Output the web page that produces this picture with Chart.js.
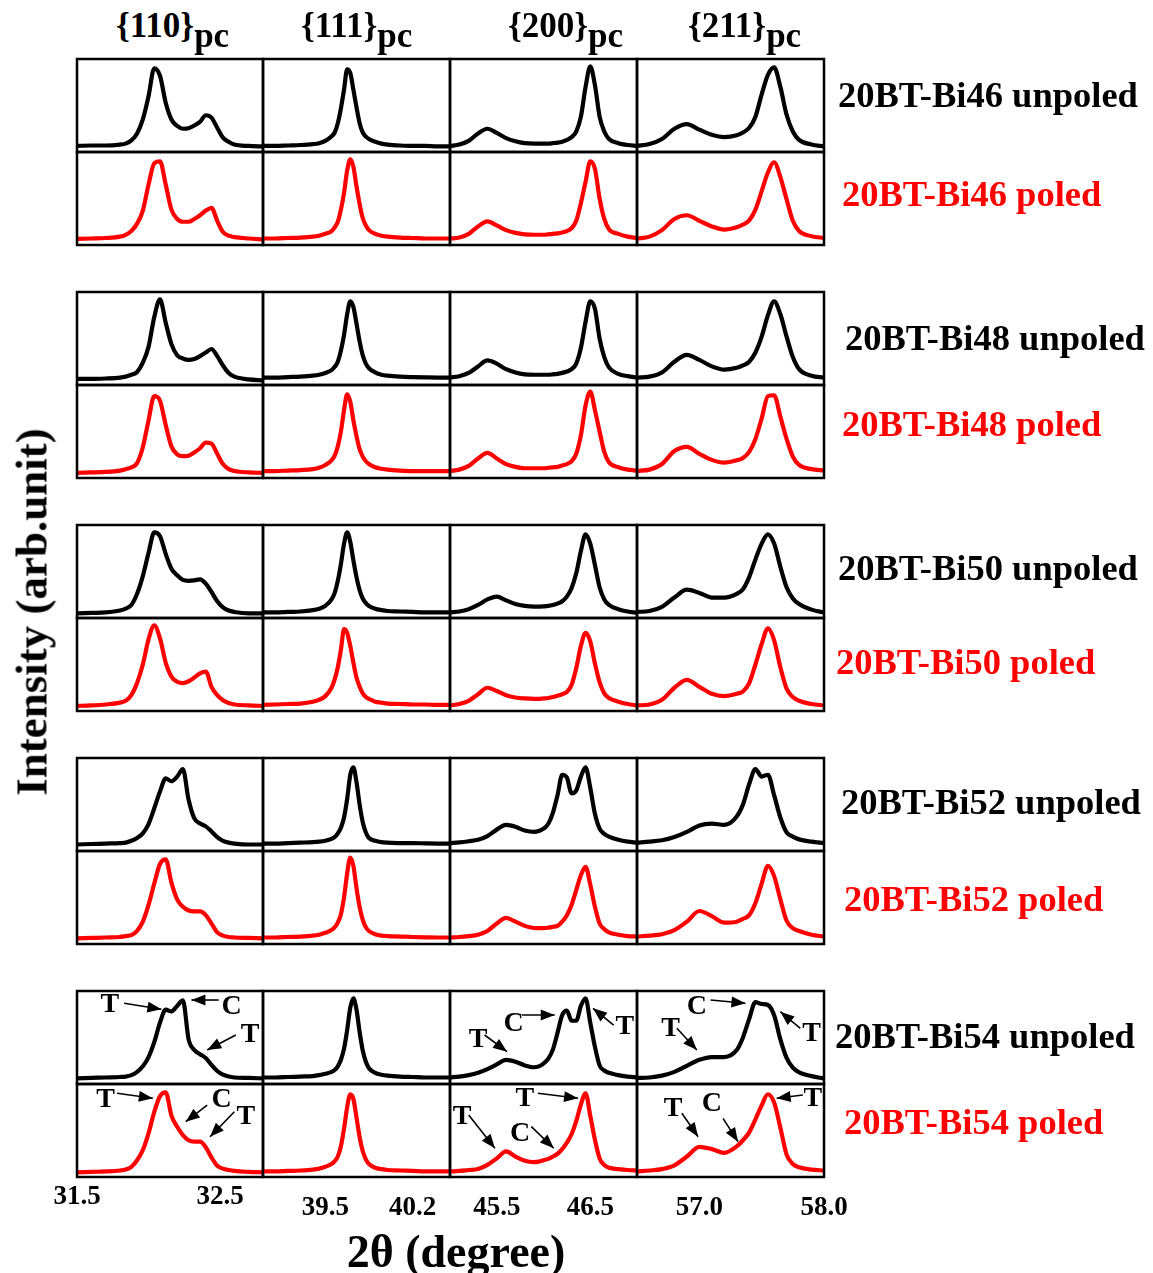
<!DOCTYPE html>
<html>
<head>
<meta charset="utf-8">
<script src="https://cdn.jsdelivr.net/npm/chart.js@4.4.0/dist/chart.umd.min.js"></script>
<style>
  body { margin: 0; width: 1153px; height: 1273px; position: relative; overflow: hidden; background: #fff;
         font-family: "Liberation Serif", "Times New Roman", serif; font-weight: bold; }
  canvas { position: absolute; }
  .txt { position: absolute; white-space: nowrap; line-height: 1; }
  .row { font-size: 36.5px; transform: translateY(-50%); }
  .hdr { font-size: 35px; }
  .hdr span { position: relative; top: 10px; }
</style>
</head>
<body>
<script>
// sample names, reflections and axis settings
const samples = ["Bi46", "Bi48", "Bi50", "Bi52", "Bi54"];
const planes = ["110", "111", "200", "211"];
const xRanges = [[31.5, 32.8], [39.0, 40.5], [45.0, 47.0], [56.5, 58.0]];
const tickVals = [[31.5, 32.5], [39.5, 40.2], [45.5, 46.5], [57.0, 58.0]];
const tickText = [["31.5", "32.5"], ["39.5", "40.2"], ["45.5", "46.5"], ["57.0", "58.0"]];

// 2theta sampling of each reflection (degree)
const x110 = [31.50, 31.60, 31.70, 31.80, 31.84, 31.88, 31.92, 31.96, 32.00, 32.04, 32.08, 32.12, 32.16,
              32.20, 32.24, 32.28, 32.32, 32.36, 32.40, 32.44, 32.48, 32.52, 32.56, 32.60, 32.70, 32.80];
const x111 = [39.0, 39.1, 39.2, 39.3, 39.4, 39.45, 39.5, 39.55, 39.575, 39.6, 39.625, 39.65, 39.675, 39.7,
              39.725, 39.75, 39.775, 39.8, 39.825, 39.85, 39.9, 39.95, 40.0, 40.1, 40.2, 40.3, 40.4, 40.5];
const x200 = [45.0, 45.1, 45.2, 45.3, 45.4, 45.5, 45.6, 45.7, 45.8, 45.9, 45.95, 46.0, 46.05, 46.1, 46.15,
              46.2, 46.25, 46.3, 46.35, 46.4, 46.45, 46.5, 46.55, 46.6, 46.65, 46.7, 46.8, 46.9, 47.0];
const x211 = [56.5, 56.6, 56.7, 56.8, 56.9, 57.0, 57.1, 57.2, 57.3, 57.35, 57.4, 57.45, 57.5, 57.55, 57.6,
              57.65, 57.7, 57.75, 57.8, 57.9, 58.0];

// intensities (arb. unit), u = unpoled, p = poled
const u46_110 = [6.5, 7, 7, 8, 9, 12.5, 20, 35, 60, 90, 82, 53, 35, 28, 25, 25.5, 28.5, 32.5, 39.5, 37, 26, 15.5, 11, 8, 6.5, 6];
const p46_110 = [6.5, 7, 7.5, 9, 11, 15, 23, 37, 65, 88, 90, 65, 38, 28, 25, 25, 28, 32, 37, 40, 26, 14, 10, 8.5, 7, 6];
const u48_110 = [6.5, 6.5, 7, 8, 9, 11, 14, 24, 41, 73, 92, 67, 44, 32, 28.5, 27, 28, 31, 35, 38.7, 31, 21, 13, 9, 6, 5];
const p48_110 = [5.5, 6, 6.5, 8, 9.5, 11.5, 16, 33, 62, 88, 83, 57, 34, 25.5, 23.5, 24, 27.5, 32, 38, 37, 26, 15, 9.5, 7.5, 6, 5.5];
const u50_110 = [5, 5.5, 6, 8, 10, 14, 26, 45, 70, 92, 88, 69, 53, 46, 41, 40, 40.5, 41.5, 37, 28, 18, 11.5, 8, 6.5, 5, 5];
const p50_110 = [5.5, 6, 7, 9, 11, 17, 30, 50, 77, 92, 78, 52, 37, 31.5, 30, 32, 36, 40.5, 42.5, 26, 17, 11.5, 8.5, 7, 6, 5.5];
const u52_110 = [7, 7.5, 8, 8.5, 9, 11, 14, 19, 29, 46, 64, 78, 75, 80, 88, 55, 35, 29.5, 26.5, 21, 15, 11, 9, 8, 7, 7];
const p52_110 = [6, 6.5, 7, 7.5, 8.5, 9.5, 14, 24, 42, 65, 86, 91, 66, 48, 40, 36, 35, 35, 31, 22, 12.5, 9, 7.5, 7, 6.5, 6];
const u54_110 = [6, 6.5, 7, 7.5, 8, 9.5, 13, 19, 29, 45, 66, 80, 78, 84, 90, 48, 36.5, 32, 28, 20.5, 14, 10, 8, 7, 6.5, 6];
const p54_110 = [5, 5.5, 6, 7, 8, 11, 18, 29, 47, 70, 87, 91, 66, 54, 45, 39.5, 38, 38, 32, 21, 12, 9, 7.5, 6.5, 5.5, 5];

const u46_111 = [6.5, 6.5, 7, 7.5, 8.5, 9.5, 12, 17, 21, 31, 47, 67, 89, 85, 67, 48, 31, 21, 16.5, 14, 11, 9, 8, 7, 6.5, 6.5, 6, 6];
const p46_111 = [7, 7, 7.5, 8, 9, 10, 12, 15, 19, 25, 38, 56, 80, 92, 84, 63, 44, 29, 21, 16, 12, 10, 9, 8, 7.5, 7, 7, 7];
const u48_111 = [8, 8, 8.5, 9, 10, 11, 13, 16, 19.5, 25, 37, 54, 76, 90, 84, 66, 47, 32, 23, 18, 13.5, 11, 10, 9, 8.5, 8.2, 8, 8];
const p48_111 = [7.5, 7.5, 8, 8.5, 9.5, 11, 14, 19, 24, 34, 50, 73, 90, 82, 62, 45, 31, 23, 18, 15, 11.5, 10, 9, 8, 7.5, 7.5, 7.5, 7.5];
const u50_111 = [6, 6, 6.5, 7, 8.5, 10, 13, 20, 27, 40, 58, 80, 92, 82, 62, 44, 30, 21, 16, 13, 10, 8.5, 7.5, 7, 6.5, 6, 6, 6];
const p50_111 = [6.5, 7, 7.5, 8, 10, 12, 16, 25, 34, 47, 66, 88, 84, 70, 52, 36, 26, 19, 15, 13, 10, 9, 8, 7.5, 7, 7, 6.5, 6.5];
const u52_111 = [8, 8, 8.5, 9, 9.5, 10, 11, 13, 15, 19, 25, 36, 56, 82, 90, 74, 50, 31, 20, 14, 11, 9.5, 9, 8.5, 8.5, 8.2, 8, 8];
const p52_111 = [7, 7, 7.5, 8, 9, 10, 12, 15, 18, 23, 32, 50, 76, 93, 84, 60, 40, 26, 18, 14, 10.5, 9, 8.5, 8, 7.5, 7.2, 7, 7];
const u54_111 = [7, 7, 7.5, 8, 8.5, 9.5, 11, 13, 15, 19, 26, 38, 58, 82, 92, 80, 56, 36, 24, 17, 12, 10, 9, 8, 7.5, 7, 7, 7];
const p54_111 = [6, 6, 6.5, 7, 8, 9, 11, 14, 17, 22, 33, 52, 75, 89, 84, 64, 43, 28, 19, 14, 10, 8.5, 7.5, 7, 6.5, 6, 6, 6];

const u46_200 = [6.5, 8, 12, 20, 25, 20.5, 15, 11.5, 9.5, 9, 9, 9, 9, 9.5, 10, 11, 13, 16, 22, 38, 70, 92, 72, 38, 22, 14, 9.5, 7.5, 6.5];
const p46_200 = [7, 8, 12, 20, 25.5, 21, 16, 13, 11.5, 11, 11, 11, 11.5, 12, 12.5, 13.5, 15, 18, 26, 45, 68, 90, 82, 50, 28, 17, 12, 9, 7.5];
const u48_200 = [8, 9.5, 13, 20, 26.5, 23, 17, 13.5, 11.5, 11, 11, 11, 11, 11.5, 12, 13, 14.5, 17, 23, 40, 68, 90, 82, 50, 30, 19, 12, 9.5, 8];
const p48_200 = [7.5, 9, 13, 21, 27, 21, 15, 12, 10.5, 10.5, 10.5, 10.5, 11, 11.5, 12, 13.5, 15, 18, 26, 46, 78, 93, 73, 50, 28, 17, 11.5, 9, 8];
const u50_200 = [6, 7, 9.5, 14, 20, 23, 19, 15, 13, 12.2, 12.2, 12.5, 13, 14, 15.5, 18, 23, 32, 48, 72, 90, 80, 57, 33, 20, 14, 9.5, 7, 5.7];
const p50_200 = [6, 7.5, 11, 18, 25, 21.5, 17, 14.5, 13.5, 13, 13, 13.5, 14, 15, 16.5, 18, 20.5, 28, 46, 70, 84, 75, 51, 31, 19, 14, 10, 7.5, 6];
const u52_200 = [8.5, 9.3, 10.5, 12, 16, 23, 28, 26, 22, 20.5, 21.5, 24, 29, 41, 60, 82, 79, 62, 65, 80, 90, 68, 40, 24, 18.5, 15.5, 12, 10, 9];
const p52_200 = [7, 7.5, 8.5, 10, 14, 22, 28, 24, 19.5, 17.2, 17, 17, 17.5, 18.5, 19.5, 24, 31, 42, 58, 74, 83, 64, 40, 22, 16, 12.5, 10, 8.5, 8];
const u54_200 = [7, 8, 9.5, 12, 16, 21, 26, 24, 20, 18, 19, 22, 27, 37, 55, 74, 79, 68, 68, 84, 92, 66, 40, 20, 14.5, 12, 9.5, 8, 7];
const p54_200 = [6, 6.5, 7.5, 8.5, 13, 20, 27.5, 22, 17.5, 16, 16.5, 18, 19.5, 22, 25, 30, 37, 46, 60, 78, 90, 66, 40, 20, 13, 10, 8.5, 7.5, 7];

const u46_211 = [6.5, 8.5, 14, 25, 30, 24, 18.5, 16, 18, 21, 26, 38, 62, 83, 91, 70, 40, 22, 13, 8, 6];
const p46_211 = [7, 9, 16, 28, 32, 26, 20, 16.5, 19, 22, 26.5, 38, 58, 78, 89, 73, 49, 26, 15, 9.5, 7.5];
const u48_211 = [8, 9, 13.5, 25, 32.5, 27, 20, 16.5, 18.5, 21, 25, 35, 52, 75, 90, 76, 52, 30, 17, 10, 8];
const p48_211 = [7.5, 9, 15, 29, 33.5, 26, 19.5, 16.5, 19, 21.5, 28, 42, 64, 88, 89, 66, 42, 23, 14, 9.5, 8];
const u50_211 = [6.5, 7.5, 12, 22, 30.5, 27, 22, 22, 26, 31, 44, 63, 80, 90, 80, 55, 33, 21, 15, 9, 6];
const p50_211 = [6, 7, 12, 25, 33.5, 26, 18.5, 16, 18.5, 21, 30, 50, 72, 89, 76, 47, 24, 15, 11, 7.5, 6];
const u52_211 = [9, 10, 11.5, 15, 20.5, 27.5, 29.5, 28, 37, 50, 72, 88, 80, 82, 60, 36, 20, 15.5, 12.5, 10, 8.5];
const p52_211 = [8, 9, 10.5, 15, 24, 35.5, 30, 23, 24, 27, 31, 44, 65, 84, 73, 48, 25, 17, 14, 10, 8];
const u54_211 = [6.5, 7, 9, 13, 19.5, 26, 29, 29, 36.5, 50, 70, 88, 86, 85, 74, 48, 28, 17.5, 12.5, 8.5, 6];
const p54_211 = [6, 7, 8.5, 12.5, 22, 32.5, 30, 26, 33, 39.5, 48, 62, 77, 89, 80, 53, 24, 14, 10.5, 8, 7];

const xGrid = { "110": x110, "111": x111, "200": x200, "211": x211 };
const curves = {
  u46_110, p46_110, u48_110, p48_110, u50_110, p50_110, u52_110, p52_110, u54_110, p54_110,
  u46_111, p46_111, u48_111, p48_111, u50_111, p50_111, u52_111, p52_111, u54_111, p54_111,
  u46_200, p46_200, u48_200, p48_200, u50_200, p50_200, u52_200, p52_200, u54_200, p54_200,
  u46_211, p46_211, u48_211, p48_211, u50_211, p50_211, u52_211, p52_211, u54_211, p54_211
};

// T / C phase marks on Bi54: [text, tx, ty, x1, y1, x2, y2] in data units
const notes = {
  "u_110": [["T", 31.73, 85, 31.83, 86.8, 32.09, 80.3], ["C", 32.58, 83, 32.49, 90.3, 32.30, 90.3],
            ["T", 32.71, 52.7, 32.61, 52.7, 32.41, 36.6]],
  "p_110": [["T", 31.70, 82.8, 31.78, 90, 32.03, 84.6], ["C", 32.51, 82.8, 32.41, 77.4, 32.26, 59.5],
            ["T", 32.68, 64.8, 32.60, 70.2, 32.43, 43.3]],
  "u_200": [["T", 45.30, 47.3, 45.37, 52.7, 45.61, 34.7], ["C", 45.68, 65.3, 45.77, 74.2, 46.12, 74.2],
            ["T", 46.87, 61.6, 46.75, 63.4, 46.53, 81.4]],
  "p_200": [["T", 45.13, 64.8, 45.20, 66.7, 45.48, 30.9], ["C", 45.75, 47, 45.87, 54.1, 46.11, 30.9],
            ["T", 45.80, 84.6, 45.94, 90, 46.37, 84.6]],
  "u_211": [["C", 56.98, 83.1, 57.09, 90.3, 57.37, 86.8], ["T", 56.77, 59.9, 56.82, 59.9, 56.98, 36.6],
            ["T", 57.90, 54.5, 57.81, 59.9, 57.65, 77.7]],
  "p_211": [["T", 56.79, 73.9, 56.86, 68.5, 56.99, 43.3], ["C", 57.10, 79.2, 57.19, 63.1, 57.31, 38],
            ["T", 57.91, 84.6, 57.83, 88.2, 57.62, 84.6]]
};

// page layout
const colLeft = [77, 263, 450, 637, 824];
const groupTop = [59, 292, 525, 758, 991];
const panelH = 93;
const tickDrop = [20, 31, 31, 31];
const rowLabelX = [[838, 842], [845, 842], [838, 836], [841, 844], [835, 844]];
const rowLabelY = [[95, 194], [338, 424], [568, 662], [802, 899], [1036, 1122]];
const headerX = [116, 301, 508, 688];

const FONT = '"Liberation Serif", "Times New Roman", serif';

function arrow(ctx, x1, y1, x2, y2) {
  ctx.beginPath();
  ctx.moveTo(x1, y1);
  ctx.lineTo(x2, y2);
  ctx.stroke();
  const a = Math.atan2(y2 - y1, x2 - x1), L = 14, W = 5.5;
  ctx.beginPath();
  ctx.moveTo(x2, y2);
  ctx.lineTo(x2 - L * Math.cos(a) + W * Math.sin(a), y2 - L * Math.sin(a) - W * Math.cos(a));
  ctx.lineTo(x2 - L * Math.cos(a) - W * Math.sin(a), y2 - L * Math.sin(a) + W * Math.cos(a));
  ctx.closePath();
  ctx.fill();
}

// frame, bottom tick labels and T/C marks
const panelPlugin = {
  id: "panel",
  afterDraw(chart, args, opts) {
    const { ctx, chartArea: a, scales } = chart;
    ctx.save();
    ctx.strokeStyle = "#000";
    ctx.lineWidth = 2.5;
    ctx.strokeRect(a.left, a.top, a.right - a.left, a.bottom - a.top);
    ctx.fillStyle = "#000";
    ctx.textAlign = "center";
    ctx.textBaseline = "middle";
    if (opts.ticks) {
      ctx.font = "bold 27px " + FONT;
      opts.ticks.forEach((v, i) => {
        ctx.fillText(opts.tickText[i], scales.x.getPixelForValue(v), a.bottom + opts.drop);
      });
    }
    if (opts.notes) {
      ctx.lineWidth = 1.6;
      ctx.font = "bold 28px " + FONT;
      opts.notes.forEach(n => {
        const px = v => scales.x.getPixelForValue(v), py = v => scales.y.getPixelForValue(v);
        ctx.fillText(n[0], px(n[1]), py(n[2]));
        arrow(ctx, px(n[3]), py(n[4]), px(n[5]), py(n[6]));
      });
    }
    ctx.restore();
  }
};

const PAD = 30, PT = 6;

function addPanel(g, s, c) {
  const plane = planes[c];
  const key = (s ? "p" : "u") + samples[g].slice(2) + "_" + plane;
  const xs = xGrid[plane], ys = curves[key];
  const w = colLeft[c + 1] - colLeft[c];
  const top = groupTop[g] + s * panelH;
  const lastRow = g === 4 && s === 1;
  const pb = lastRow ? 56 : 6;

  const cv = document.createElement("canvas");
  cv.width = w + 2 * PAD;
  cv.height = panelH + PT + pb;
  cv.style.left = (colLeft[c] - PAD) + "px";
  cv.style.top = (top - PT) + "px";
  document.body.appendChild(cv);

  new Chart(cv.getContext("2d"), {
    type: "line",
    data: {
      datasets: [{
        data: xs.map((x, i) => ({ x: x, y: ys[i] })),
        borderColor: s ? "#ff0000" : "#000000",
        borderWidth: 4.2,
        pointRadius: 0,
        cubicInterpolationMode: "monotone",
        fill: false
      }]
    },
    options: {
      responsive: false,
      animation: false,
      events: [],
      layout: { padding: { left: PAD, right: PAD, top: PT, bottom: pb } },
      plugins: {
        legend: { display: false },
        tooltip: { enabled: false },
        panel: {
          ticks: lastRow ? tickVals[c] : null,
          tickText: tickText[c],
          drop: tickDrop[c],
          notes: g === 4 ? (notes[(s ? "p_" : "u_") + plane] || null) : null
        }
      },
      scales: {
        x: { type: "linear", min: xRanges[c][0], max: xRanges[c][1], display: false },
        y: { min: 0, max: 100, display: false }
      }
    },
    plugins: [panelPlugin]
  });
}

function addText(cls, html, css) {
  const d = document.createElement("div");
  d.className = "txt " + cls;
  d.innerHTML = html;
  Object.assign(d.style, css);
  document.body.appendChild(d);
}

for (let g = 0; g < samples.length; g++) {
  for (let s = 0; s < 2; s++) {
    for (let c = 0; c < planes.length; c++) addPanel(g, s, c);
    addText("row", "20BT-" + samples[g] + (s ? " poled" : " unpoled"), {
      left: rowLabelX[g][s] + "px", top: rowLabelY[g][s] + "px", color: s ? "#ff0000" : "#000000"
    });
  }
}

planes.forEach((p, c) => {
  addText("hdr", "{" + p + "}<span>pc</span>", { left: headerX[c] + "px", top: "8px" });
});

addText("", "Intensity (arb.unit)", {
  left: "32px", top: "612px", fontSize: "45px",
  transform: "translate(-50%, -50%) rotate(-90deg)"
});
addText("", "2θ (degree)", {
  left: "456px", top: "1252px", fontSize: "46px", transform: "translate(-50%, -50%)"
});
</script>
</body>
</html>
